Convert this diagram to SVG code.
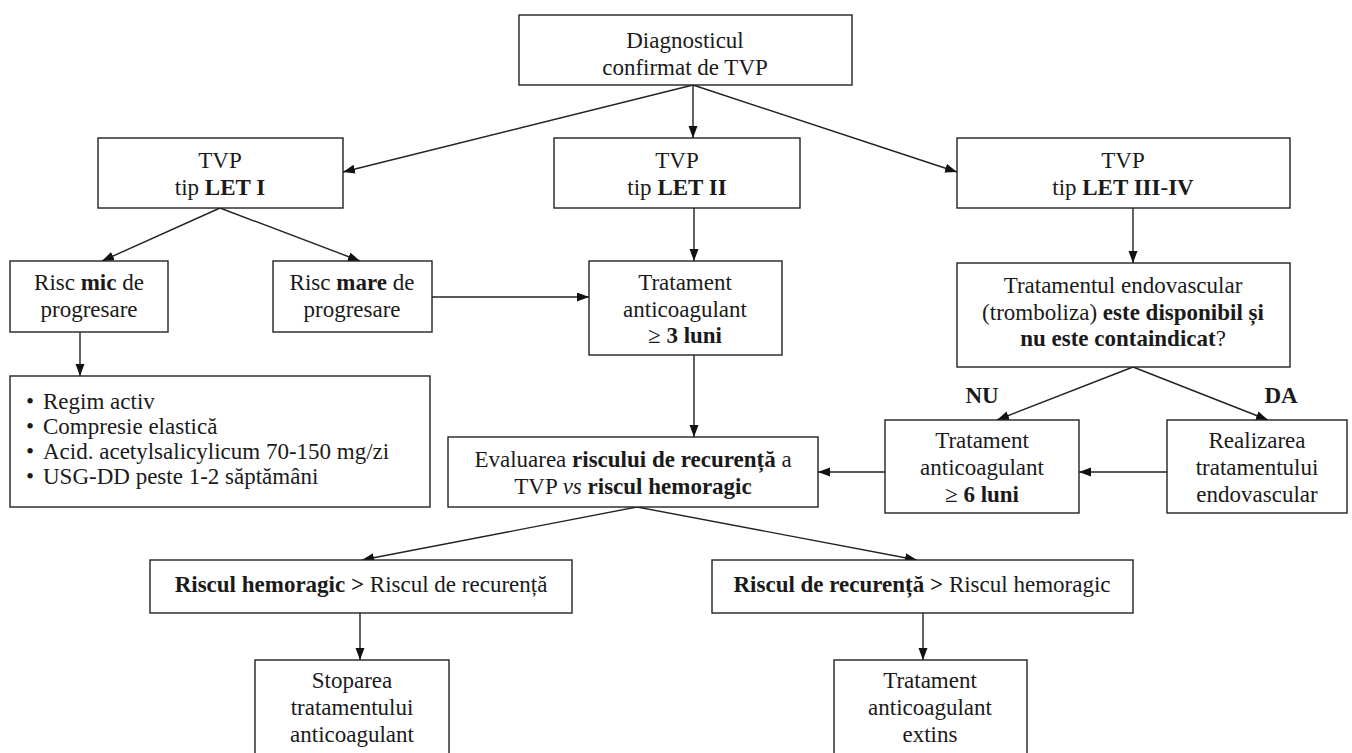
<svg xmlns="http://www.w3.org/2000/svg" width="1352" height="753" viewBox="0 0 1352 753">
<style>
.box{fill:#fff;stroke:#222;stroke-width:1.4}
text{font-family:'Liberation Serif','DejaVu Serif',serif;font-size:23px;fill:#1a1a1a}
.t{text-anchor:middle}
.l{text-anchor:start}
.b{font-weight:bold}
.i{font-style:italic}
.c{fill:none;stroke:#222;stroke-width:1.4}
</style>
<defs>
<marker id="ah" markerWidth="13" markerHeight="10" refX="12" refY="4.5" orient="auto" markerUnits="userSpaceOnUse">
<path d="M0,0 L12,4.5 L0,9 z" fill="#111"/>
</marker>
</defs>
<rect width="1352" height="753" fill="#fff"/>
<g id="connectors">
<line class="c" x1="693" y1="85" x2="693" y2="138" marker-end="url(#ah)"/>
<line class="c" x1="693" y1="85" x2="343" y2="172" marker-end="url(#ah)"/>
<line class="c" x1="693" y1="85" x2="957" y2="172" marker-end="url(#ah)"/>
<line class="c" x1="220" y1="208" x2="102" y2="261" marker-end="url(#ah)"/>
<line class="c" x1="220" y1="208" x2="360" y2="261" marker-end="url(#ah)"/>
<line class="c" x1="80" y1="332" x2="80" y2="376" marker-end="url(#ah)"/>
<line class="c" x1="432" y1="297" x2="589" y2="297" marker-end="url(#ah)"/>
<line class="c" x1="694" y1="208" x2="694" y2="261" marker-end="url(#ah)"/>
<line class="c" x1="694" y1="355" x2="694" y2="437" marker-end="url(#ah)"/>
<line class="c" x1="1133" y1="208" x2="1133" y2="263" marker-end="url(#ah)"/>
<line class="c" x1="1133" y1="367" x2="997" y2="420" marker-end="url(#ah)"/>
<line class="c" x1="1133" y1="367" x2="1268" y2="420" marker-end="url(#ah)"/>
<line class="c" x1="1167" y1="472" x2="1079" y2="472" marker-end="url(#ah)"/>
<line class="c" x1="885" y1="472" x2="818" y2="472" marker-end="url(#ah)"/>
<line class="c" x1="637" y1="507" x2="362" y2="560" marker-end="url(#ah)"/>
<line class="c" x1="637" y1="507" x2="917" y2="560" marker-end="url(#ah)"/>
<line class="c" x1="360" y1="613" x2="360" y2="660" marker-end="url(#ah)"/>
<line class="c" x1="923" y1="613" x2="923" y2="660" marker-end="url(#ah)"/>
</g>
<g id="n-diag">
<rect class="box" x="519" y="15" width="333" height="70"/>
<text class="t" x="685" y="48">Diagnosticul</text>
<text class="t" x="685" y="75">confirmat de TVP</text>
</g>
<g id="n-let1">
<rect class="box" x="98" y="138" width="245" height="70"/>
<text class="t" x="220" y="168">TVP</text>
<text class="t" x="220" y="195">tip <tspan class="b">LET I</tspan></text>
</g>
<g id="n-let2">
<rect class="box" x="554" y="138" width="246" height="70"/>
<text class="t" x="677" y="168">TVP</text>
<text class="t" x="677" y="195">tip <tspan class="b">LET II</tspan></text>
</g>
<g id="n-let34">
<rect class="box" x="957" y="138" width="333" height="70"/>
<text class="t" x="1123" y="168">TVP</text>
<text class="t" x="1123" y="195">tip <tspan class="b">LET III</tspan>-<tspan class="b">IV</tspan></text>
</g>
<g id="n-riscmic">
<rect class="box" x="10" y="261" width="158" height="71"/>
<text class="t" x="89" y="290">Risc <tspan class="b">mic</tspan> de</text>
<text class="t" x="89" y="317">progresare</text>
</g>
<g id="n-riscmare">
<rect class="box" x="273" y="261" width="159" height="71"/>
<text class="t" x="352" y="290">Risc <tspan class="b">mare</tspan> de</text>
<text class="t" x="352" y="317">progresare</text>
</g>
<g id="n-trat3">
<rect class="box" x="589" y="261" width="193" height="94"/>
<text class="t" x="685" y="290">Tratament</text>
<text class="t" x="685" y="317">anticoagulant</text>
<text class="t" x="685" y="343">≥ <tspan class="b">3 luni</tspan></text>
</g>
<g id="n-endo">
<rect class="box" x="957" y="263" width="333" height="104"/>
<text class="t" x="1123" y="293">Tratamentul endovascular</text>
<text class="t" x="1123" y="320">(tromboliza) <tspan class="b">este disponibil și</tspan></text>
<text class="t" x="1123" y="346"><tspan class="b">nu este containdicat</tspan>?</text>
</g>
<g id="n-bullets">
<rect class="box" x="10" y="376" width="420" height="131"/>
<text class="l" x="26" y="409">•</text><text class="l" x="43" y="409">Regim activ</text>
<text class="l" x="26" y="434">•</text><text class="l" x="43" y="434">Compresie elastică</text>
<text class="l" x="26" y="459">•</text><text class="l" x="43" y="459">Acid. acetylsalicylicum 70-150 mg/zi</text>
<text class="l" x="26" y="484">•</text><text class="l" x="43" y="484">USG-DD peste 1-2 săptămâni</text>
</g>
<g id="n-eval">
<rect class="box" x="448" y="437" width="370" height="70"/>
<text class="t" x="633" y="467">Evaluarea <tspan class="b">riscului de recurență</tspan> a</text>
<text class="t" x="633" y="494">TVP <tspan class="i">vs</tspan> <tspan class="b">riscul hemoragic</tspan></text>
</g>
<g id="n-nu">
<text class="t b" x="982" y="403">NU</text>
</g>
<g id="n-da">
<text class="t b" x="1281" y="403">DA</text>
</g>
<g id="n-trat6">
<rect class="box" x="885" y="420" width="194" height="93"/>
<text class="t" x="982" y="448">Tratament</text>
<text class="t" x="982" y="475">anticoagulant</text>
<text class="t" x="982" y="502">≥ <tspan class="b">6 luni</tspan></text>
</g>
<g id="n-realiz">
<rect class="box" x="1167" y="420" width="180" height="93"/>
<text class="t" x="1257" y="448">Realizarea</text>
<text class="t" x="1257" y="475">tratamentului</text>
<text class="t" x="1257" y="502">endovascular</text>
</g>
<g id="n-hem">
<rect class="box" x="150" y="560" width="422" height="53"/>
<text class="t" x="361" y="592"><tspan class="b">Riscul hemoragic &gt;</tspan> Riscul de recurență</text>
</g>
<g id="n-rec">
<rect class="box" x="712" y="560" width="421" height="53"/>
<text class="t" x="922" y="592"><tspan class="b">Riscul de recurență &gt;</tspan> Riscul hemoragic</text>
</g>
<g id="n-stop">
<rect class="box" x="255" y="660" width="194" height="110"/>
<text class="t" x="352" y="688">Stoparea</text>
<text class="t" x="352" y="715">tratamentului</text>
<text class="t" x="352" y="742">anticoagulant</text>
</g>
<g id="n-extins">
<rect class="box" x="834" y="660" width="193" height="110"/>
<text class="t" x="930" y="688">Tratament</text>
<text class="t" x="930" y="715">anticoagulant</text>
<text class="t" x="930" y="742">extins</text>
</g>
</svg>
